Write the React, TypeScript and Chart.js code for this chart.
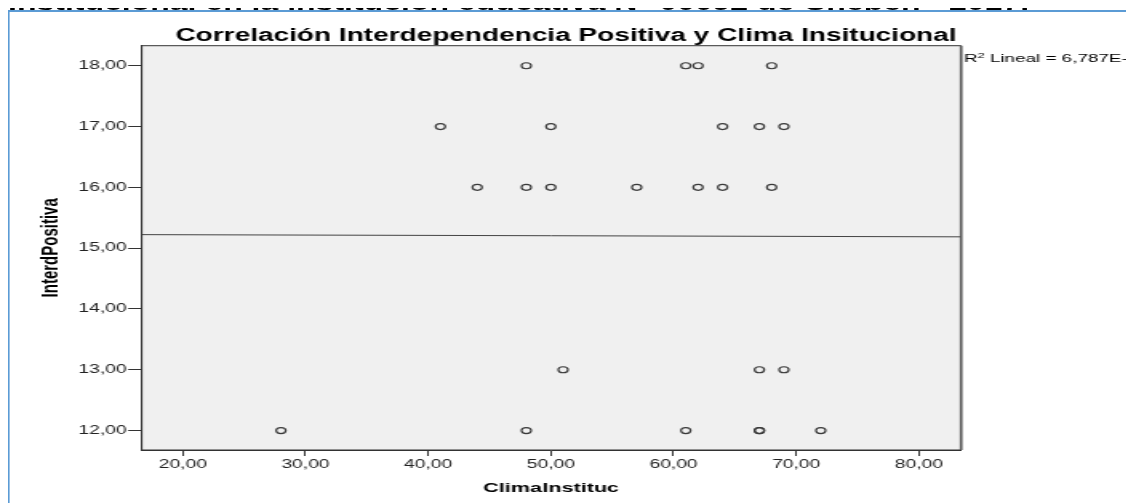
import React, { useEffect, useRef } from 'react';
import { Chart, registerables } from 'chart.js';

Chart.register(...registerables);

// ---------- data ----------
const headerText = 'Institucional en la institución educativa N° 00092 de Chepén - 2017.';
const chartTitle = 'Correlación Interdependencia Positiva y Clima Insitucional';
const xAxisTitle = 'ClimaInstituc';
const yAxisTitle = 'InterdPositiva';

const climaInstituc = [48, 61, 62, 68, 41, 50, 64, 67, 69, 44, 48, 50, 57, 62, 64, 68, 51, 67, 69, 28, 48, 61, 67, 67, 72];
const interdPositiva = [18, 18, 18, 18, 17, 17, 17, 17, 17, 16, 16, 16, 16, 16, 16, 16, 13, 13, 13, 12, 12, 12, 12, 12, 12];

const xTicks = [20, 30, 40, 50, 60, 70, 80];
const yTicks = [12, 13, 14, 15, 16, 17, 18];
const xRange = [16.65, 83.4];
const yRange = [11.68, 18.33];

// ---------- helpers ----------
const FONT = "'Liberation Sans', Arial, Helvetica, sans-serif";
const STRETCH = 1.6;

function linearFit(xs: number[], ys: number[]) {
  const n = xs.length;
  const mx = xs.reduce((a, b) => a + b, 0) / n;
  const my = ys.reduce((a, b) => a + b, 0) / n;
  let sxx = 0, sxy = 0, syy = 0;
  for (let i = 0; i < n; i++) {
    sxx += (xs[i] - mx) * (xs[i] - mx);
    sxy += (xs[i] - mx) * (ys[i] - my);
    syy += (ys[i] - my) * (ys[i] - my);
  }
  const slope = sxy / sxx;
  const intercept = my - slope * mx;
  const r2 = (sxy * sxy) / (sxx * syy);
  return { slope, intercept, r2 };
}

const fit = linearFit(climaInstituc, interdPositiva);
const r2Label = fit.r2.toExponential(3).replace('.', ',').replace('e', 'E');
const fmt = (v: number) => Number(v).toFixed(2).replace('.', ',');

const decorPlugin = {
  id: 'decor',
  beforeDraw(chart: any) {
    const { ctx, chartArea: a } = chart;
    ctx.save();
    ctx.fillStyle = '#f0f0f0';
    ctx.fillRect(a.left, a.top, a.right - a.left, a.bottom - a.top);
    ctx.restore();
  },
  afterDraw(chart: any) {
    const { ctx, chartArea: a } = chart;
    ctx.save();
    ctx.strokeStyle = '#333';
    ctx.lineWidth = 1;
    ctx.strokeRect(a.left, a.top, a.right - a.left, a.bottom - a.top);
    ctx.strokeStyle = '#777';
    ctx.beginPath();
    ctx.moveTo(a.right + 0.8, a.top);
    ctx.lineTo(a.right + 0.8, a.bottom);
    ctx.stroke();

    ctx.fillStyle = '#000';
    ctx.font = `bold 17.5px ${FONT}`;
    ctx.textAlign = 'center';
    ctx.textBaseline = 'alphabetic';
    ctx.fillText(chartTitle, 347.8, 29);

    ctx.textAlign = 'left';
    ctx.font = `11.8px ${FONT}`;
    let x = a.right + 2;
    const y = a.top + 16;
    ctx.fillText('R', x, y);
    x += ctx.measureText('R').width;
    ctx.font = `8px ${FONT}`;
    ctx.fillText('2', x, y - 4);
    x += ctx.measureText('2').width;
    ctx.font = `11.8px ${FONT}`;
    ctx.fillText(` Lineal = ${r2Label}`, x, y);
    ctx.restore();
  },
};

export default function App() {
  const ref = useRef<HTMLCanvasElement | null>(null);

  useEffect(() => {
    document.documentElement.style.overflow = 'hidden';
    const canvas = ref.current;
    if (!canvas) return;
    const points = climaInstituc.map((x, i) => ({ x, y: interdPositiva[i] }));
    const linePts = xRange.map((x) => ({ x, y: fit.intercept + fit.slope * x }));
    const chart = new Chart(canvas, {
      type: 'scatter',
      data: {
        datasets: [
          {
            type: 'scatter',
            data: points,
            pointStyle: 'circle',
            pointRadius: 3,
            pointBorderWidth: 1.2,
            pointBorderColor: '#3a3a3a',
            pointBackgroundColor: 'rgba(0,0,0,0)',
          } as any,
          {
            type: 'line',
            data: linePts,
            borderColor: '#444',
            borderWidth: 1,
            pointRadius: 0,
            fill: false,
          } as any,
        ],
      },
      options: {
        animation: false,
        responsive: false,
        devicePixelRatio: 1,
        layout: { padding: { left: 0, right: 117.6, top: 33.7, bottom: 0 } },
        plugins: {
          legend: { display: false },
          tooltip: { enabled: false },
          title: { display: false },
        },
        scales: {
          x: {
            type: 'linear',
            min: xRange[0],
            max: xRange[1],
            afterBuildTicks: (s: any) => {
              s.ticks = xTicks.map((v) => ({ value: v }));
            },
            afterFit: (s: any) => {
              s.height = 53;
            },
            ticks: {
              font: { family: FONT, size: 12 },
              color: '#222',
              padding: 1,
              maxRotation: 0,
              autoSkip: false,
              callback: (v: any) => fmt(v),
            },
            grid: { drawOnChartArea: false, drawTicks: true, tickLength: 6, tickColor: '#333', tickWidth: 1 },
            border: { display: true, color: '#333', width: 1 },
            title: {
              display: true,
              text: xAxisTitle,
              font: { family: FONT, size: 13.5, weight: 'bold' },
              color: '#000',
              padding: { top: 0, bottom: 7 },
            },
          },
          y: {
            type: 'linear',
            min: yRange[0],
            max: yRange[1],
            afterBuildTicks: (s: any) => {
              s.ticks = yTicks.map((v) => ({ value: v }));
            },
            afterFit: (s: any) => {
              s.width = 82.6;
            },
            ticks: {
              font: { family: FONT, size: 12 },
              color: '#222',
              padding: 1,
              autoSkip: false,
              callback: (v: any) => fmt(v),
            },
            grid: { drawOnChartArea: false, drawTicks: true, tickLength: 8.5, tickColor: '#333', tickWidth: 1 },
            border: { display: true, color: '#333', width: 1 },
            title: {
              display: true,
              text: yAxisTitle,
              font: { family: FONT, size: 15, weight: 'bold' },
              color: '#000',
              padding: { top: 17, bottom: 0 },
            },
          },
        },
      } as any,
      plugins: [decorPlugin as any],
    });
    return () => chart.destroy();
  }, []);

  return (
    <div style={{ position: 'relative', width: 1126, height: 503, marginTop: -8, overflow: 'hidden', background: '#fff' }}>
      <div
        style={{
          position: 'absolute',
          left: 0,
          top: 0,
          width: 704,
          height: 503,
          transform: `scaleX(${STRETCH})`,
          transformOrigin: '0 0',
        }}
      >
        <div
          style={{
            position: 'absolute',
            left: 0,
            top: -7,
            font: `bold 20px ${FONT}`,
            lineHeight: '21px',
            whiteSpace: 'nowrap',
            color: '#000',
          }}
        >
          {headerText}
        </div>
        <div
          style={{
            position: 'absolute',
            left: 0,
            top: 10,
            width: 800,
            height: 600,
            borderLeft: '1.25px solid #5b9bd5',
            borderTop: '2px solid #5b9bd5',
            background: '#fff',
          }}
        />
        <div style={{ position: 'absolute', left: 1.25, top: 12, width: 712, height: 491 }}>
          <canvas ref={ref} width={712} height={491} style={{ display: 'block', width: '712px', height: '491px' }} />
        </div>
      </div>
    </div>
  );
}
